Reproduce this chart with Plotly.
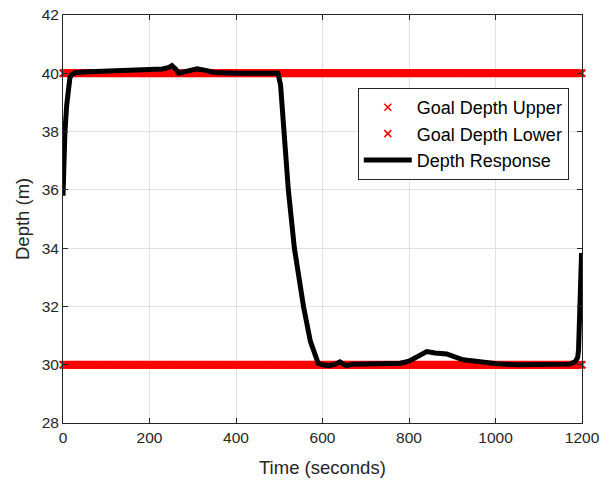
import numpy as np
import plotly.graph_objects as go

# Goal depths (m) sampled across the run
goal_time = np.arange(0, 1201, 1)
goal_upper = 40.0
goal_lower = 30.0

# Measured depth response
resp_time = [0, 2, 4.5, 8.5, 12, 16, 20, 30, 60, 100, 150, 200, 230, 245, 252,
             260, 268, 280, 300, 310, 330, 350, 400, 450, 490, 497, 503, 511,
             521, 535, 556, 572, 582, 590, 600, 615, 630, 640, 648, 655, 670,
             700, 750, 780, 800, 820, 841, 860, 887, 925, 964, 1003, 1050,
             1100, 1150, 1172, 1184, 1190, 1192, 1195.5, 1199]
resp_depth = [35.8, 37.2, 38.0, 38.9, 39.6, 39.85, 39.95, 40.03, 40.05, 40.07,
              40.1, 40.13, 40.15, 40.2, 40.26, 40.15, 40.0, 40.05, 40.12, 40.15,
              40.1, 40.03, 40.0, 40.0, 40.0, 40.0, 39.6, 38.0, 36.0, 34.0, 32.0,
              30.8, 30.3, 30.05, 30.0, 29.97, 30.02, 30.1, 30.02, 29.97, 30.02,
              30.02, 30.03, 30.05, 30.12, 30.3, 30.45, 30.4, 30.37, 30.17, 30.08,
              30.03, 30.0, 30.0, 30.0, 30.02, 30.1, 30.25, 30.5, 32.0, 33.83]

x_ticks = [0, 200, 400, 600, 800, 1000, 1200]
y_ticks = [28, 30, 32, 34, 36, 38, 40, 42]

FONT = "Liberation Sans, Arial, Helvetica, sans-serif"
INK = "#262626"

goal_marker = dict(symbol="x-thin", size=7, color="#ff0000",
                   line=dict(color="#ff0000", width=1.5))

fig = go.Figure()
fig.add_trace(go.Scatter(
    x=goal_time, y=[goal_upper] * len(goal_time), mode="markers",
    name="Goal Depth Upper", cliponaxis=False, marker=goal_marker,
))
fig.add_trace(go.Scatter(
    x=goal_time, y=[goal_lower] * len(goal_time), mode="markers",
    name="Goal Depth Lower", cliponaxis=False, marker=goal_marker,
))
fig.add_trace(go.Scatter(
    x=resp_time, y=resp_depth, mode="lines", name="Depth Response",
    line=dict(color="#000000", width=5),
))

axis_common = dict(
    showline=True, linecolor=INK, linewidth=1, mirror="ticks",
    ticks="inside", ticklen=5, tickcolor=INK, tickwidth=1,
    showgrid=True, gridcolor="#e1e1e1", gridwidth=1, zeroline=False,
    automargin=False,
    tickfont=dict(family=FONT, size=15.5, color=INK),
)

fig.update_xaxes(range=[0, 1200], tickvals=x_ticks, **axis_common)
fig.update_yaxes(range=[28, 42], tickvals=y_ticks, **axis_common)

title_font = dict(family=FONT, size=18.5, color=INK)
fig.add_annotation(text="Time (seconds)", xref="paper", yref="paper",
                   x=0.5, y=-0.108, xanchor="center", yanchor="middle",
                   showarrow=False, font=title_font)
fig.add_annotation(text="Depth (m)", xref="paper", yref="paper",
                   x=-0.079, y=0.5, xanchor="center", yanchor="middle",
                   textangle=-90, showarrow=False, font=title_font)

fig.update_layout(
    width=610, height=480,
    margin=dict(l=63, r=28, t=15, b=57),
    paper_bgcolor="white", plot_bgcolor="white",
    font=dict(family=FONT, color=INK),
    legend=dict(
        x=0.568, y=0.821, xanchor="left", yanchor="top",
        bgcolor="white", bordercolor=INK, borderwidth=1,
        font=dict(family=FONT, size=18, color="#000000"),
        itemwidth=48, tracegroupgap=0,
    ),
)

fig.write_html("out.html")
